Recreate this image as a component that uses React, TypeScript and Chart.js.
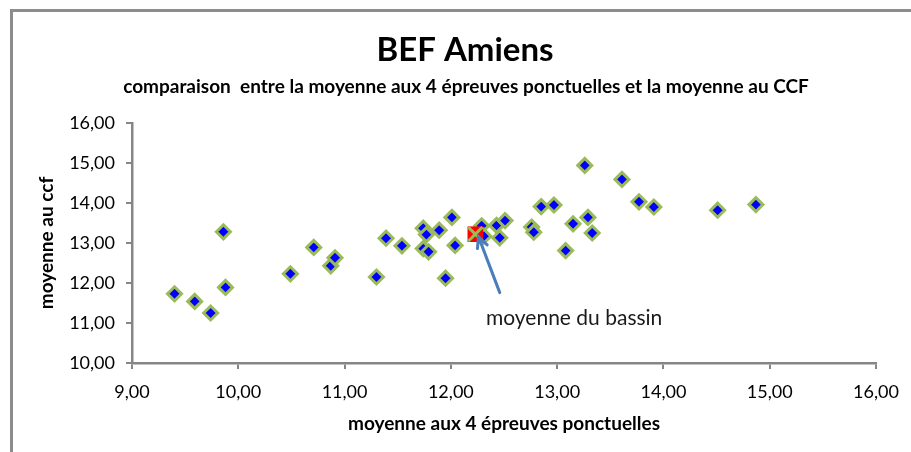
import React, { useEffect, useRef } from 'react';
import { Chart, registerables } from 'chart.js';
Chart.register(...registerables);

const chartTitle = 'BEF Amiens';
const chartSubtitle = 'comparaison  entre la moyenne aux 4 épreuves ponctuelles et la moyenne au CCF';
const xAxisTitle = 'moyenne aux 4 épreuves ponctuelles';
const yAxisTitle = 'moyenne au ccf';
const annotationText = 'moyenne du bassin';

const xTickLabels = ['9,00', '10,00', '11,00', '12,00', '13,00', '14,00', '15,00', '16,00'];
const yTickLabels = ['10,00', '11,00', '12,00', '13,00', '14,00', '15,00', '16,00'];

// moyenne aux 4 épreuves ponctuelles (x) per établissement
const ponctuelles = [
  9.40, 9.59, 9.74, 9.86, 9.88, 10.49, 10.71, 10.87, 10.91, 11.30,
  11.39, 11.54, 11.74, 11.77, 11.74, 11.79, 11.89, 12.01, 12.04, 11.95,
  12.29, 12.31, 12.43, 12.51, 12.46, 12.76, 12.78, 12.85, 12.97, 13.08,
  13.15, 13.26, 13.29, 13.33, 13.61, 13.77, 13.91, 14.51, 14.87,
];
// moyenne au CCF (y)
const ccf = [
  11.73, 11.54, 11.25, 13.28, 11.89, 12.23, 12.89, 12.43, 12.63, 12.15,
  13.12, 12.93, 13.37, 13.21, 12.86, 12.78, 13.32, 13.64, 12.94, 12.12,
  13.43, 13.17, 13.44, 13.56, 13.13, 13.40, 13.27, 13.91, 13.95, 12.81,
  13.48, 14.94, 13.64, 13.25, 14.59, 14.03, 13.90, 13.82, 13.96,
];
const bassinX = [12.23];
const bassinY = [13.22];

// annotation anchors (data units)
const arrowTail = [12.46, 11.76];
const arrowTip = [12.26, 13.16];
const labelAt = [13.16, 11.12];

const FONT = 'Lato, "Liberation Sans", sans-serif';
const AXIS_GREY = '#868686';

const headerPlugin = {
  id: 'header',
  afterDraw(chart: any) {
    const { ctx } = chart;
    ctx.save();
    ctx.fillStyle = '#000';
    ctx.textAlign = 'center';
    ctx.textBaseline = 'middle';
    ctx.font = 'bold 33px ' + FONT;
    ctx.fillText(chartTitle, 465, 50);
    ctx.font = 'bold 19px ' + FONT;
    ctx.fillText(chartSubtitle, 466, 87);
    ctx.restore();
  },
};

const annotationPlugin = {
  id: 'annot',
  afterDatasetsDraw(chart: any) {
    const { ctx, scales } = chart;
    const xs = scales.x, ys = scales.y;
    const tx = xs.getPixelForValue(arrowTail[0]);
    const ty = ys.getPixelForValue(arrowTail[1]);
    const hx = xs.getPixelForValue(arrowTip[0]);
    const hy = ys.getPixelForValue(arrowTip[1]);
    ctx.save();
    ctx.strokeStyle = '#4A7EBB';
    ctx.lineWidth = 3;
    ctx.lineCap = 'round';
    ctx.beginPath();
    ctx.moveTo(tx, ty);
    ctx.lineTo(hx, hy);
    const ang = Math.atan2(hy - ty, hx - tx);
    const L = 12, A = 0.45;
    ctx.moveTo(hx - L * Math.cos(ang - A), hy - L * Math.sin(ang - A));
    ctx.lineTo(hx, hy);
    ctx.lineTo(hx - L * Math.cos(ang + A), hy - L * Math.sin(ang + A));
    ctx.stroke();
    ctx.fillStyle = '#1a1a1a';
    ctx.font = '21px ' + FONT;
    ctx.textAlign = 'center';
    ctx.textBaseline = 'middle';
    ctx.fillText(annotationText, xs.getPixelForValue(labelAt[0]), ys.getPixelForValue(labelAt[1]));
    ctx.restore();
  },
};

export default function App() {
  const ref = useRef<HTMLCanvasElement>(null);
  useEffect(() => {
    const points = ponctuelles.map((v, i) => ({ x: v, y: ccf[i] }));
    const bassin = bassinX.map((v, i) => ({ x: v, y: bassinY[i] }));
    const chart = new Chart(ref.current as HTMLCanvasElement, {
      type: 'scatter',
      data: {
        datasets: [
          {
            label: 'bassin X',
            data: bassin,
            pointStyle: 'crossRot',
            radius: 10,
            borderColor: '#9BBB59',
            backgroundColor: '#9BBB59',
            borderWidth: 3,
          },
          {
            label: 'bassin',
            data: bassin,
            pointStyle: 'rect',
            radius: 11,
            backgroundColor: '#FF0000',
            borderColor: '#FF0000',
            borderWidth: 0,
          },
          {
            label: 'établissements',
            data: points,
            pointStyle: 'rectRot',
            radius: 7,
            backgroundColor: '#0000FF',
            borderColor: '#9BBB59',
            borderWidth: 3,
          },
        ],
      },
      options: {
        responsive: false,
        animation: false,
        events: [],
        layout: { padding: { left: 0, right: 35, top: 123, bottom: 0 } },
        plugins: {
          legend: { display: false },
          tooltip: { enabled: false },
          title: { display: false },
        },
        scales: {
          x: {
            type: 'linear',
            min: 9,
            max: 16,
            afterFit: (s: any) => { s.height = 89; },
            ticks: {
              stepSize: 1,
              color: '#000',
              font: { family: FONT, size: 18 },
              padding: 12,
              maxRotation: 0,
              callback: (_v: any, i: number) => xTickLabels[i],
            },
            grid: { drawOnChartArea: false, drawTicks: true, tickLength: 6, color: AXIS_GREY, lineWidth: 2 },
            border: { display: true, color: AXIS_GREY, width: 2.5 },
            title: {
              display: true,
              text: xAxisTitle,
              color: '#000',
              font: { family: FONT, size: 19, weight: 'bold', lineHeight: 1.2 },
              padding: { top: 0, bottom: 17 },
            },
          },
          y: {
            type: 'linear',
            min: 10,
            max: 16,
            afterFit: (s: any) => { s.width = 132; },
            ticks: {
              stepSize: 1,
              color: '#000',
              font: { family: FONT, size: 18 },
              padding: 11,
              callback: (_v: any, i: number) => yTickLabels[i],
            },
            grid: { drawOnChartArea: false, drawTicks: true, tickLength: 6, color: AXIS_GREY, lineWidth: 2 },
            border: { display: true, color: AXIS_GREY, width: 2.5 },
            title: {
              display: true,
              text: yAxisTitle,
              color: '#000',
              font: { family: FONT, size: 19, weight: 'bold', lineHeight: 1.2 },
              padding: { top: 35, bottom: 0 },
            },
          },
        },
      },
      plugins: [annotationPlugin, headerPlugin],
    } as any);
    return () => chart.destroy();
  }, []);

  return (
    <div style={{ position: 'absolute', left: 0, top: 0, width: 911, height: 452, overflow: 'hidden', background: '#fff' }}>
      <div style={{ position: 'absolute', left: 10, top: 9, width: 1200, height: 1000, border: '3px solid #8C8C8C' }} />
      <canvas ref={ref} width={911} height={452} style={{ position: 'absolute', left: 0, top: 0 }} />
    </div>
  );
}
